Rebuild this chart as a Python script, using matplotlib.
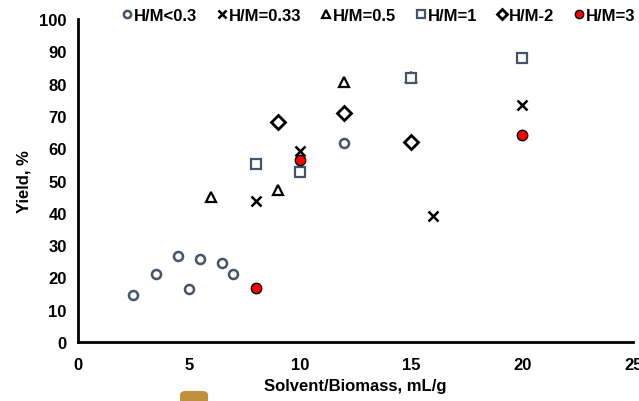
import matplotlib.pyplot as plt
from matplotlib.patches import FancyBboxPatch

plt.rcParams['font.family'] = ['Liberation Sans', 'DejaVu Sans']
plt.rcParams['font.weight'] = 'bold'

# series: solvent/biomass ratio (mL/g) and yield (%)
x_lt03 = [2.5, 3.5, 4.5, 5, 5.5, 6.5, 7, 12]
y_lt03 = [14.5, 21, 26.6, 16.4, 25.7, 24.4, 21, 61.5]

x_033 = [8, 10, 16, 20]
y_033 = [43.5, 59, 39, 73.5]

x_05 = [6, 9, 12, 15]
y_05 = [45, 47, 80.5, 82]

x_1 = [8, 10, 15, 20]
y_1 = [55, 52.5, 81.7, 88]

x_2 = [9, 12, 15]
y_2 = [68, 71, 62]

x_3 = [8, 10, 20]
y_3 = [16.7, 56.5, 64]

labels = ['H/M<0.3', 'H/M=0.33', 'H/M=0.5', 'H/M=1', 'H/M-2', 'H/M=3']

fig = plt.figure(figsize=(6.39, 4.02), dpi=100)
ax = fig.add_axes([0.122, 0.147, 0.869, 0.803])

blue = '#44546A'
ax.plot(x_lt03, y_lt03, 'o', ms=6.5, mfc='white', mec=blue, mew=1.8, label=labels[0])
ax.plot(x_033, y_033, 'x', ms=7, mec='black', mew=1.8, label=labels[1])
ax.plot(x_05, y_05, '^', ms=6.5, mfc='white', mec='black', mew=1.6, label=labels[2])
ax.plot(x_1, y_1, 's', ms=6.5, mfc='white', mec=blue, mew=1.6, label=labels[3])
ax.plot(x_2, y_2, 'D', ms=7, mfc='white', mec='black', mew=2, label=labels[4])
ax.plot(x_3, y_3, 'o', ms=7.5, mfc='#FF0000', mec='black', mew=1, label=labels[5])

ax.set_xlim(0, 25)
ax.set_ylim(0, 100)
ax.set_xticks(range(0, 26, 5))
ax.set_yticks(range(0, 101, 10))
ax.tick_params(axis='y', length=0, labelsize=12, pad=8)
ax.tick_params(axis='x', length=0, labelsize=12, pad=11)
for s in ['top', 'right']:
    ax.spines[s].set_visible(False)
for s in ['left', 'bottom']:
    ax.spines[s].set_linewidth(2)

ax.set_xlabel('Solvent/Biomass, mL/g', fontsize=12, fontweight='bold', labelpad=4)
ax.set_ylabel('Yield, %', fontsize=12, fontweight='bold', labelpad=6)

ax.legend(ncol=6, loc='upper left', bbox_to_anchor=(0.078, 1.035), frameon=False,
          fontsize=12, handlelength=0.7, handletextpad=0.05, columnspacing=1.15,
          borderaxespad=0, borderpad=0, markerscale=0.8)

# cropped page badge at the bottom
badge = FancyBboxPatch((180 / 639, -0.02), 28 / 639, 0.045,
                       boxstyle='round,pad=0.0,rounding_size=0.01',
                       transform=fig.transFigure, fc='#C0913A', ec='none')
fig.patches.append(badge)

fig.savefig('out.png', dpi=100)
